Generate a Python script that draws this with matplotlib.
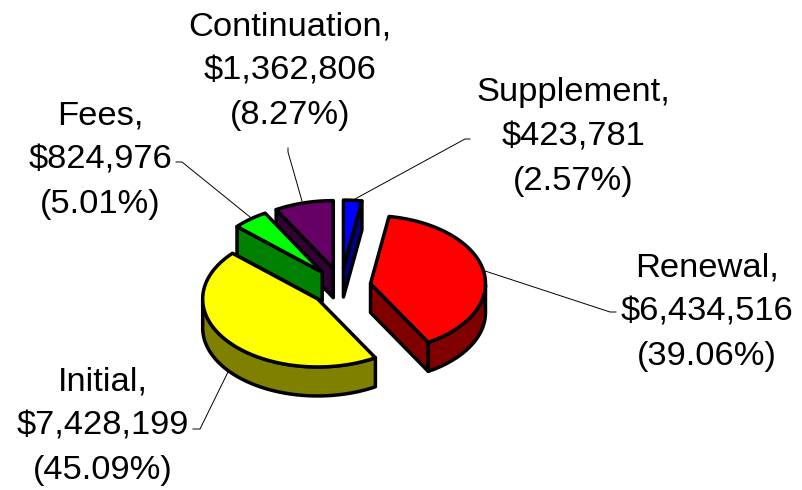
import numpy as np
import matplotlib
matplotlib.use("Agg")
import matplotlib.pyplot as plt
from matplotlib.patches import Polygon

plt.rcParams["font.family"] = ["Liberation Sans", "DejaVu Sans"]

# slice data, clockwise from 12 o'clock
categories = ["Supplement", "Renewal", "Initial", "Fees", "Continuation"]
amounts = [423781, 6434516, 7428199, 824976, 1362806]
percents = ["2.57%", "39.06%", "45.09%", "5.01%", "8.27%"]
top_colors = ["#0000ff", "#ff0000", "#ffff00", "#00ff00", "#660066"]
side_colors = ["#000080", "#800000", "#808000", "#008000", "#330033"]
# drawn back to front
draw_order = [4, 0, 3, 2, 1]

# label centre (px) and leader line (px) for each slice
label_pos = [(573, 137), (707, 312), (103, 426), (100, 160), (290, 71)]
leaders = [
    [(355, 199), (465, 139), (470, 139)],
    [(482, 270), (610, 312), (616, 312)],
    [(228, 372), (200, 429), (193, 429)],
    [(250, 217), (182, 162), (176, 162)],
    [(302, 201), (288, 152), (288, 148)],
]

# pie geometry in pixels
cx, cy = 341, 287
rx, ry = 115, 68
ex, ey = 30, 19
depth = 29

fig = plt.figure(figsize=(8.02, 4.90), dpi=100)
ax = fig.add_axes([0, 0, 1, 1])
ax.set_xlim(0, 802)
ax.set_ylim(490, 0)
ax.axis("off")

fracs = np.array(amounts) / sum(amounts)
edges = np.concatenate([[0], np.cumsum(fracs)]) * 2 * np.pi


def rim(t):
    return np.column_stack([rx * np.sin(t), -ry * np.cos(t)])


def face(pts, color):
    ax.add_patch(Polygon(pts, closed=True, facecolor=color, edgecolor="black",
                         linewidth=2.5, joinstyle="round"))


def extrude(pts):
    return np.vstack([pts, pts[::-1] + [0, depth]])


for i in draw_order:
    t1, t2 = edges[i], edges[i + 1]
    mid = (t1 + t2) / 2
    apex = np.array([cx + ex * np.sin(mid), cy - ey * np.cos(mid)])
    t = np.linspace(t1, t2, 80)
    outer = apex + rim(t)

    # only the faces turned towards the viewer
    if np.sin(t1) < 0:
        face(extrude(np.vstack([apex, outer[0]])), side_colors[i])
    if np.sin(t2) > 0:
        face(extrude(np.vstack([apex, outer[-1]])), side_colors[i])
    front = np.cos(t) < 0
    if front.sum() > 1:
        face(extrude(outer[front]), side_colors[i])

    face(np.vstack([apex, outer]), top_colors[i])

for line in leaders:
    xs, ys = zip(*line)
    ax.plot(xs, ys, color="black", lw=0.7, zorder=5)

for i, name in enumerate(categories):
    text = f"{name},\n${amounts[i]:,}\n({percents[i]})"
    ax.text(label_pos[i][0], label_pos[i][1], text, ha="center", va="center",
            fontsize=24.8, linespacing=1.55, color="black", zorder=6)

fig.savefig("out.png", dpi=100)
